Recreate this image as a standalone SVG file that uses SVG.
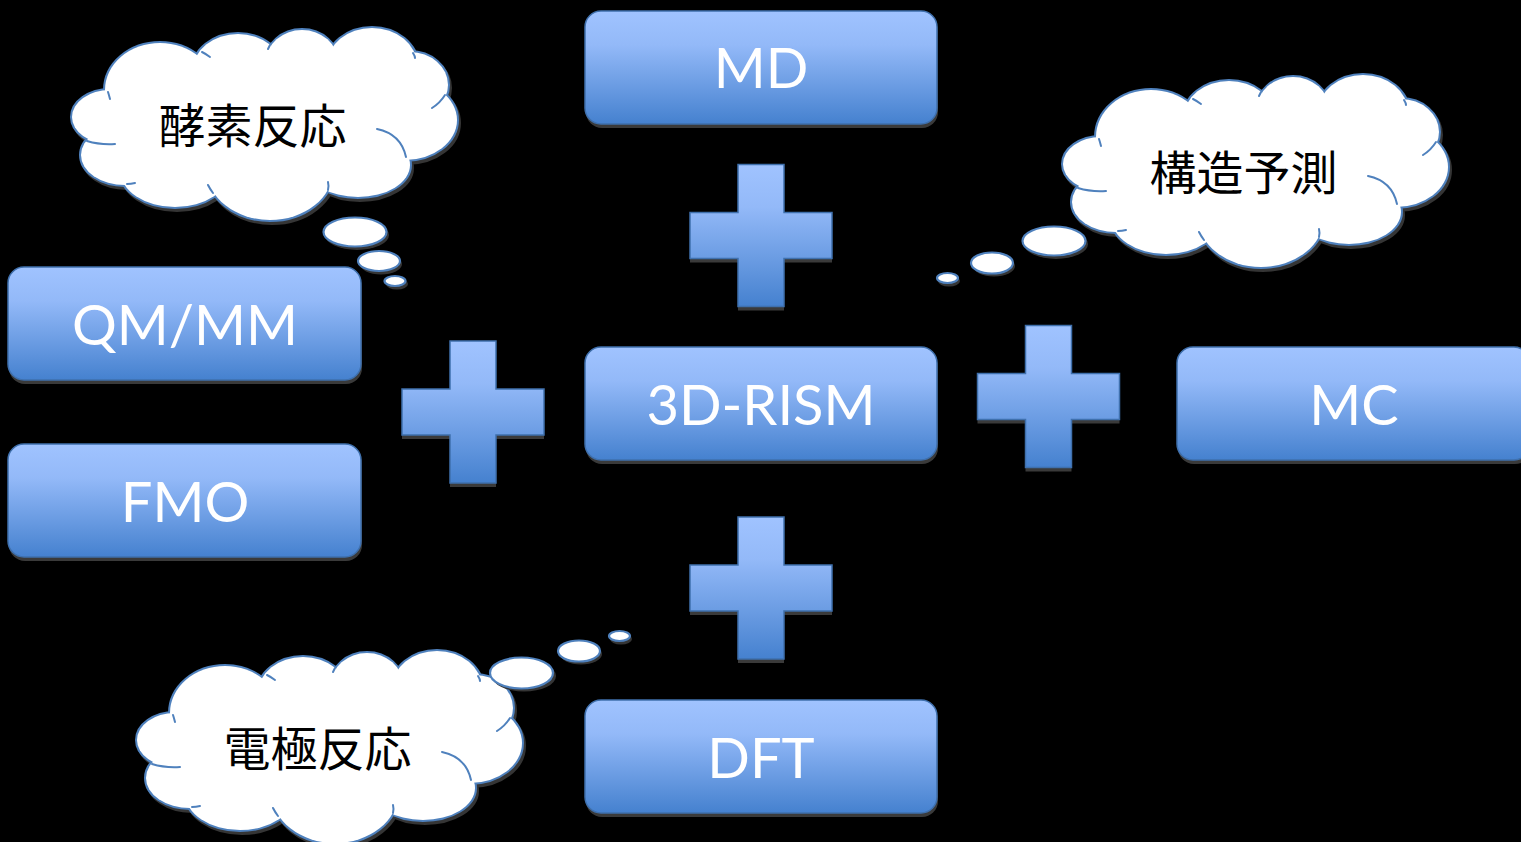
<svg xmlns="http://www.w3.org/2000/svg" xmlns:xlink="http://www.w3.org/1999/xlink" width="1521" height="842" viewBox="0 0 1521 842">
<style>
.box{fill:url(#bg);stroke:#3f70ad;stroke-width:1.5}
.shadow{fill:#3a3a3a}
.lbl{font-family:Lato,"Open Sans","Liberation Sans",sans-serif;font-size:56px;fill:#fff;text-anchor:middle}
.jp{font-family:"Noto Sans CJK JP","Noto Sans CJK SC",sans-serif;font-size:47px;fill:#000;text-anchor:middle}
.tick{fill:none;stroke:#4f81bd;stroke-width:2;stroke-linecap:round}
.bub{fill:#fff;stroke:#4f81bd;stroke-width:2.2}
.bubsh{fill:#353535}
</style>
<defs>
<linearGradient id="bg" x1="0" y1="0" x2="0" y2="1">
<stop offset="0" stop-color="#a0c3ff"/>
<stop offset="0.3" stop-color="#93b9f8"/>
<stop offset="1" stop-color="#4581cf"/>
</linearGradient>
<g id="cloudBumps">
<ellipse cx="110" cy="117" rx="38" ry="27"/>
<ellipse cx="125" cy="155" rx="44" ry="30"/>
<ellipse cx="175" cy="170" rx="55" ry="37"/>
<ellipse cx="270" cy="170" rx="63" ry="50"/>
<ellipse cx="358" cy="165" rx="52" ry="32"/>
<ellipse cx="405" cy="120" rx="52" ry="40"/>
<ellipse cx="410" cy="85" rx="38" ry="33"/>
<ellipse cx="372" cy="65" rx="45" ry="37"/>
<ellipse cx="302" cy="62" rx="36" ry="32"/>
<ellipse cx="238" cy="70" rx="45" ry="36"/>
<ellipse cx="160" cy="90" rx="55" ry="47"/>
</g>
<ellipse id="cloudFiller" cx="265" cy="120" rx="150" ry="70"/>
<g id="cloudTicks" class="tick">
<path d="M108 92 Q109 95 110 99"/>
<path d="M87 141 Q100 145 115 144"/>
<path d="M127 184 Q131 184 135 183"/>
<path d="M213 193 Q210 189 208 185"/>
<path d="M328 190 Q329 186 328 182"/>
<path d="M377 129 Q401 134 406 157"/>
<path d="M445 95 Q440 103 432 108"/>
<path d="M413 53 Q415 56 415 58"/>
<path d="M270 45 Q269 47 268 49"/>
<path d="M202 52 Q206 54 210 57"/>
</g>
<g id="cloud">
<use xlink:href="#cloudBumps" transform="translate(2,3)" fill="#353535" stroke="#353535" stroke-width="4"/>
<use xlink:href="#cloudBumps" fill="none" stroke="#4f81bd" stroke-width="4"/>
<use xlink:href="#cloudBumps" fill="#fff" stroke="none"/>
<use xlink:href="#cloudFiller" fill="#fff"/>
<use xlink:href="#cloudTicks"/>
</g>
<path id="plus" d="M-23 -71 H23 V-23 H71 V23 H23 V71 H-23 V23 H-71 V-23 H-23 Z"/>
</defs>
<rect width="1521" height="842" fill="#000"/>

<g id="node-md">
<rect class="shadow" x="586" y="15" width="352" height="113" rx="16"/>
<rect class="box" x="585" y="11" width="352" height="113" rx="16"/>
<text class="lbl" x="761" y="88">MD</text>
</g>
<g id="node-qmmm">
<rect class="shadow" x="9" y="271" width="353" height="113" rx="16"/>
<rect class="box" x="8" y="267" width="353" height="113" rx="16"/>
<text class="lbl" x="185" y="345">QM/MM</text>
</g>
<g id="node-fmo">
<rect class="shadow" x="9" y="448" width="353" height="113" rx="16"/>
<rect class="box" x="8" y="444" width="353" height="113" rx="16"/>
<text class="lbl" x="185" y="522">FMO</text>
</g>
<g id="node-3drism">
<rect class="shadow" x="586" y="351" width="352" height="113" rx="16"/>
<rect class="box" x="585" y="347" width="352" height="113" rx="16"/>
<text class="lbl" x="761" y="425">3D-RISM</text>
</g>
<g id="node-mc">
<rect class="shadow" x="1178" y="351" width="353" height="113" rx="16"/>
<rect class="box" x="1177" y="347" width="353" height="113" rx="16"/>
<text class="lbl" x="1354" y="425">MC</text>
</g>
<g id="node-dft">
<rect class="shadow" x="586" y="704" width="352" height="113" rx="16"/>
<rect class="box" x="585" y="700" width="352" height="113" rx="16"/>
<text class="lbl" x="761" y="778">DFT</text>
</g>

<g id="plus-top" transform="translate(761,235.5)">
<use xlink:href="#plus" class="shadow" transform="translate(0,4)"/>
<use xlink:href="#plus" class="box"/>
</g>
<g id="plus-left" transform="translate(473,412)">
<use xlink:href="#plus" class="shadow" transform="translate(0,4)"/>
<use xlink:href="#plus" class="box"/>
</g>
<g id="plus-right" transform="translate(1048.5,396.5)">
<use xlink:href="#plus" class="shadow" transform="translate(0,4)"/>
<use xlink:href="#plus" class="box"/>
</g>
<g id="plus-bottom" transform="translate(761,588)">
<use xlink:href="#plus" class="shadow" transform="translate(0,4)"/>
<use xlink:href="#plus" class="box"/>
</g>

<g id="cloud-enzyme">
<use xlink:href="#cloud"/>
<ellipse class="bubsh" cx="357" cy="235" rx="32" ry="15"/>
<ellipse class="bub" cx="355" cy="232" rx="31.5" ry="14.5"/>
<ellipse class="bubsh" cx="381" cy="264" rx="21" ry="10.5"/>
<ellipse class="bub" cx="379" cy="261" rx="21" ry="10"/>
<ellipse class="bubsh" cx="397" cy="284" rx="11" ry="5.5"/>
<ellipse class="bub" cx="395" cy="281" rx="10.5" ry="5"/>
<text class="jp" x="252.5" y="143">酵素反応</text>
</g>
<g id="cloud-structure">
<use xlink:href="#cloud" transform="translate(991,47)"/>
<ellipse class="bubsh" cx="1056" cy="244" rx="32" ry="15"/>
<ellipse class="bub" cx="1054" cy="241" rx="31.5" ry="14.5"/>
<ellipse class="bubsh" cx="994" cy="266" rx="21" ry="10.5"/>
<ellipse class="bub" cx="992" cy="263" rx="21" ry="10.5"/>
<ellipse class="bubsh" cx="949" cy="281" rx="11" ry="5.5"/>
<ellipse class="bub" cx="947.5" cy="278" rx="10.5" ry="5"/>
<text class="jp" x="1243.5" y="190">構造予測</text>
</g>
<g id="cloud-electrode">
<use xlink:href="#cloud" transform="translate(65,623)"/>
<ellipse class="bubsh" cx="524" cy="676" rx="32" ry="15.5"/>
<ellipse class="bub" cx="521.5" cy="673" rx="31.5" ry="15.5"/>
<ellipse class="bubsh" cx="581" cy="654" rx="21" ry="10.5"/>
<ellipse class="bub" cx="579" cy="651" rx="21" ry="10.5"/>
<ellipse class="bubsh" cx="621" cy="639" rx="11" ry="5.5"/>
<ellipse class="bub" cx="619.5" cy="636" rx="10.5" ry="5"/>
<text class="jp" x="317.5" y="766">電極反応</text>
</g>
<g id="connectors"/>
</svg>
